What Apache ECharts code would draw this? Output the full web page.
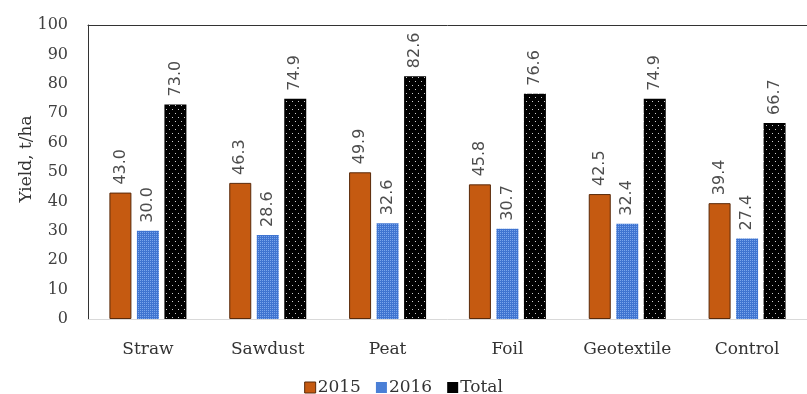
<!DOCTYPE html>
<html>
<head>
<meta charset="utf-8">
<script src="https://cdn.jsdelivr.net/npm/echarts@6/dist/echarts.min.js"></script>
<style>
  html, body { margin: 0; padding: 0; background: #fff; }
  #chart { width: 807px; height: 394px; }
</style>
</head>
<body>
<div id="chart"></div>
<script>
const categories = ['Straw', 'Sawdust', 'Peat', 'Foil', 'Geotextile', 'Control']
const yield2015 = [43.0, 46.3, 49.9, 45.8, 42.5, 39.4]
const yield2016 = [30.0, 28.6, 32.6, 30.7, 32.4, 27.4]
const yieldTotal = [73.0, 74.9, 82.6, 76.6, 74.9, 66.7]
const yTicks = [0, 100, 10]

// small canvas patterns for the dotted bars
const makePattern = (w, h, bg, dot, dots) => {
  const c = document.createElement('canvas')
  c.width = w
  c.height = h
  const ctx = c.getContext('2d')
  ctx.fillStyle = bg
  ctx.fillRect(0, 0, w, h)
  ctx.fillStyle = dot
  dots.forEach(d => ctx.fillRect(d[0], d[1], 1, 1))
  return { image: c, repeat: 'repeat' }
}
const bluePattern = makePattern(2, 2, '#3f74d0', '#7aa6ec', [[0, 0]])
const blackPattern = makePattern(6, 8, '#000', '#cfcfcf', [[1, 1], [4, 5]])

const serif = '"DejaVu Serif", "Liberation Serif", serif'
const labelStyle = {
  show: true,
  position: 'top',
  rotate: 90,
  align: 'left',
  verticalAlign: 'middle',
  distance: 8,
  fontSize: 16,
  color: '#4d4d4d',
  fontFamily: '"DejaVu Sans", Arial, sans-serif',
  formatter: p => p.value.toFixed(1)
}

const chart = echarts.init(document.getElementById('chart'))
const option = {
  animation: false,
  grid: { left: 88, right: 0, top: 25, bottom: 75, outerBoundsMode: 'none' },
  legend: {
    top: 374,
    left: 'center',
    itemWidth: 11,
    itemHeight: 11,
    itemGap: 15,
    icon: 'rect',
    textStyle: { fontFamily: serif, fontSize: 17, color: '#333', padding: [0, 0, 0, -3] },
    data: [
      { name: '2015', itemStyle: { color: '#c55a11', borderColor: '#5a2a0a', borderWidth: 1 } },
      { name: '2016', itemStyle: { color: '#4a7fd6' } },
      { name: 'Total', itemStyle: { color: '#000' } }
    ]
  },
  xAxis: [
    {
      type: 'category',
      data: categories,
      axisLine: { lineStyle: { color: '#d9d9d9' } },
      axisTick: { show: false },
      axisLabel: { fontFamily: serif, fontSize: 17, color: '#333', margin: 22 }
    },
    {
      type: 'category',
      position: 'top',
      data: categories,
      axisLine: { show: true, lineStyle: { color: '#333' } },
      axisTick: { show: false },
      axisLabel: { show: false }
    }
  ],
  yAxis: {
    type: 'value',
    min: yTicks[0],
    max: yTicks[1],
    interval: yTicks[2],
    name: 'Yield, t/ha',
    nameLocation: 'middle',
    nameGap: 53,
    nameMoveOverlap: false,
    nameTextStyle: { fontFamily: serif, fontSize: 17, color: '#333', padding: [0, 0, 0, 26] },
    axisLine: { show: true, lineStyle: { color: '#333' } },
    axisTick: { show: false },
    splitLine: { show: false },
    axisLabel: { fontFamily: serif, fontSize: 16, color: '#404040', margin: 20 }
  },
  series: [
    {
      name: '2015',
      type: 'bar',
      data: yield2015,
      barWidth: 22,
      barGap: '25%',
      itemStyle: { color: '#c55a11', borderColor: '#5a2a0a', borderWidth: 1 },
      label: labelStyle
    },
    {
      name: '2016',
      type: 'bar',
      data: yield2016,
      barWidth: 22,
      barGap: '25%',
      itemStyle: { color: bluePattern },
      label: labelStyle
    },
    {
      name: 'Total',
      type: 'bar',
      data: yieldTotal,
      barWidth: 22,
      barGap: '25%',
      itemStyle: { color: blackPattern },
      label: labelStyle
    }
  ]
}
chart.setOption(option)
</script>
</body>
</html>
